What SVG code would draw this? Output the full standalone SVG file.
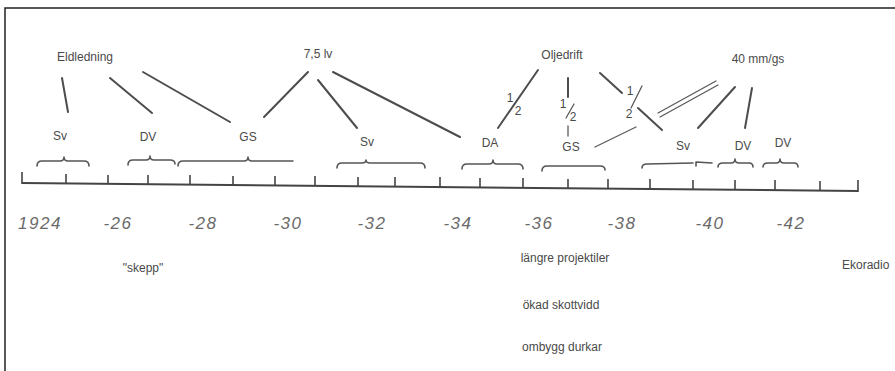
<svg xmlns="http://www.w3.org/2000/svg" width="895" height="371" viewBox="0 0 895 371">
  <style>
    .lbl { font-family: "Liberation Sans", Arial, sans-serif; font-size: 12px; fill: #4a4a4a; text-anchor: middle; }
    .note { font-family: "Liberation Sans", Arial, sans-serif; font-size: 12px; fill: #4a4a4a; }
    .hand { font-family: "Liberation Sans", Arial, sans-serif; font-style: italic; font-size: 17px; fill: #6a6a6a; text-anchor: middle; letter-spacing: 1.5px; }
    .frac { font-family: "Liberation Sans", Arial, sans-serif; font-size: 12px; fill: #4a4a4a; text-anchor: middle; }
    .ln { stroke: #4d4d4d; stroke-width: 2; fill: none; stroke-linecap: round; }
    .thin { stroke: #5a5a5a; stroke-width: 1.3; fill: none; stroke-linecap: round; }
    .brace { stroke: #555; stroke-width: 1.6; fill: none; stroke-linecap: round; stroke-linejoin: round; }
    .axis { stroke: #444; stroke-width: 2; fill: none; }
    .tick { stroke: #444; stroke-width: 1.6; }
  </style>

  <rect x="0" y="0" width="895" height="371" fill="#ffffff"/>
  <!-- frame -->
  <path d="M5,371 L5,8 L895,8" stroke="#222" stroke-width="1.5" fill="none"/>

  <!-- time axis -->
  <g id="axis">
    <path class="axis" d="M22,183 L858,191"/>
    <g class="tick">
      <line x1="22" y1="172" x2="22" y2="184"/>
      <line x1="66" y1="174" x2="66" y2="184"/>
      <line x1="108" y1="175" x2="108" y2="184"/>
      <line x1="148" y1="175" x2="148" y2="185"/>
      <line x1="190" y1="175" x2="190" y2="185"/>
      <line x1="233" y1="176" x2="233" y2="185"/>
      <line x1="275" y1="176" x2="275" y2="186"/>
      <line x1="315" y1="176" x2="315" y2="186"/>
      <line x1="358" y1="177" x2="358" y2="187"/>
      <line x1="395" y1="177" x2="395" y2="187"/>
      <line x1="440" y1="177" x2="440" y2="187"/>
      <line x1="480" y1="178" x2="480" y2="188"/>
      <line x1="523" y1="178" x2="523" y2="188"/>
      <line x1="568" y1="179" x2="568" y2="189"/>
      <line x1="608" y1="179" x2="608" y2="189"/>
      <line x1="650" y1="179" x2="650" y2="189"/>
      <line x1="693" y1="180" x2="693" y2="190"/>
      <line x1="735" y1="180" x2="735" y2="190"/>
      <line x1="775" y1="180" x2="775" y2="190"/>
      <line x1="820" y1="181" x2="820" y2="191"/>
      <line x1="858" y1="180" x2="858" y2="192"/>
    </g>
    <g id="years">
      <text class="hand" x="40" y="229">1924</text>
      <text class="hand" x="118" y="229">-26</text>
      <text class="hand" x="203" y="229">-28</text>
      <text class="hand" x="288" y="229">-30</text>
      <text class="hand" x="372" y="229">-32</text>
      <text class="hand" x="458" y="229">-34</text>
      <text class="hand" x="539" y="229">-36</text>
      <text class="hand" x="622" y="229">-38</text>
      <text class="hand" x="710" y="229">-40</text>
      <text class="hand" x="791" y="229">-42</text>
    </g>
  </g>

  <!-- period braces above the axis -->
  <g id="braces" class="brace">
    <path d="M37,166 Q37,161 42,161 L60,161 Q64,161 64,157 Q64,161 68,161 L84,161 Q89,161 89,166"/>
    <path d="M128,165 Q128,160 133,160 L146,160 Q150,160 150,156 Q150,160 154,160 L170,160 Q175,160 175,164"/>
    <path d="M178,166 Q178,161 183,161 L244,161 Q248,161 248,157 Q248,161 252,161 L293,161"/>
    <path d="M337,168 Q337,163 342,163 L362,163 Q366,163 366,160 Q366,163 370,163 L420,163 Q425,163 425,168"/>
    <path d="M462,169 Q462,164 467,164 L489,164 Q493,164 493,160 Q493,164 497,164 L518,164 Q523,164 523,169"/>
    <path d="M542,171 Q542,166 547,166 L600,166 Q605,166 605,170"/>
    <path d="M642,168 Q642,164 647,164 L693,163"/>
    <path d="M696,166 L696,162 L712,163"/>
    <path d="M718,167 Q718,163 723,163 L731,163 Q735,163 735,159 Q735,163 739,163 L749,163 Q753,163 753,167"/>
    <path d="M763,167 Q763,163 768,163 L776,163 Q780,163 780,159 Q780,163 784,163 L794,163 Q798,163 798,167"/>
  </g>

  <!-- connectors -->
  <g id="connectors">
    <line class="ln" x1="62" y1="78" x2="68" y2="112"/>
    <line class="ln" x1="110" y1="78" x2="152" y2="113"/>
    <line class="ln" x1="143" y1="72" x2="230" y2="122"/>
    <line class="ln" x1="308" y1="72" x2="264" y2="117"/>
    <line class="ln" x1="318" y1="80" x2="357" y2="128"/>
    <line class="ln" x1="333" y1="72" x2="460" y2="137"/>
    <line class="ln" x1="538" y1="70" x2="498" y2="128"/>
    <line class="ln" x1="568" y1="78" x2="568" y2="97"/>
    <line class="thin" x1="568" y1="126" x2="568" y2="136"/>
    <line class="ln" x1="600" y1="73" x2="622" y2="93"/>
    <line class="thin" x1="642" y1="86" x2="631" y2="108"/>
    <line class="ln" x1="638" y1="108" x2="662" y2="130"/>
    <line class="thin" x1="595" y1="147" x2="636" y2="127"/>
    <line class="thin" x1="658" y1="113" x2="716" y2="81"/>
    <line class="thin" x1="660" y1="117" x2="718" y2="85"/>
    <line class="ln" x1="735" y1="87" x2="698" y2="128"/>
    <line class="ln" x1="752" y1="88" x2="745" y2="128"/>
  </g>

  <!-- headings -->
  <g id="eldledning"><text class="lbl" x="85" y="61">Eldledning</text></g>
  <g id="lv75"><text class="lbl" x="318" y="58">7,5 lv</text></g>
  <g id="oljedrift"><text class="lbl" x="562" y="59">Oljedrift</text></g>
  <g id="mm40"><text class="lbl" x="758" y="63" font-size="11.5">40 mm/gs</text></g>

  <!-- fraction marks on the Oljedrift branches -->
  <g id="frac1"><text class="frac" x="510" y="102">1</text><text class="frac" x="518" y="115">2</text></g>
  <g id="frac2"><text class="frac" x="563" y="108">1</text><line class="thin" x1="574" y1="104" x2="566" y2="118"/><text class="frac" x="573" y="121">2</text></g>
  <g id="frac3"><text class="frac" x="630" y="95">1</text><text class="frac" x="629" y="118">2</text></g>

  <!-- ship types -->
  <g id="sv1"><text class="lbl" x="60" y="140">Sv</text></g>
  <g id="dv1"><text class="lbl" x="148" y="141">DV</text></g>
  <g id="gs1"><text class="lbl" x="248" y="141">GS</text></g>
  <g id="sv2"><text class="lbl" x="367" y="146">Sv</text></g>
  <g id="da1"><text class="lbl" x="490" y="147">DA</text></g>
  <g id="gs2"><text class="lbl" x="571" y="151">GS</text></g>
  <g id="sv3"><text class="lbl" x="683" y="150">Sv</text></g>
  <g id="dv2"><text class="lbl" x="743" y="150">DV</text></g>
  <g id="dv3"><text class="lbl" x="783" y="147">DV</text></g>

  <!-- notes below the axis -->
  <g id="skepp"><text class="lbl" x="143" y="272">"skepp"</text></g>
  <g id="projektiler"><text class="lbl" x="565" y="262">längre projektiler</text></g>
  <g id="skottvidd"><text class="lbl" x="561" y="309">ökad skottvidd</text></g>
  <g id="durkar"><text class="lbl" x="562" y="351">ombygg durkar</text></g>
  <g id="ekoradio"><text class="note" x="842" y="269">Ekoradio</text></g>
</svg>
